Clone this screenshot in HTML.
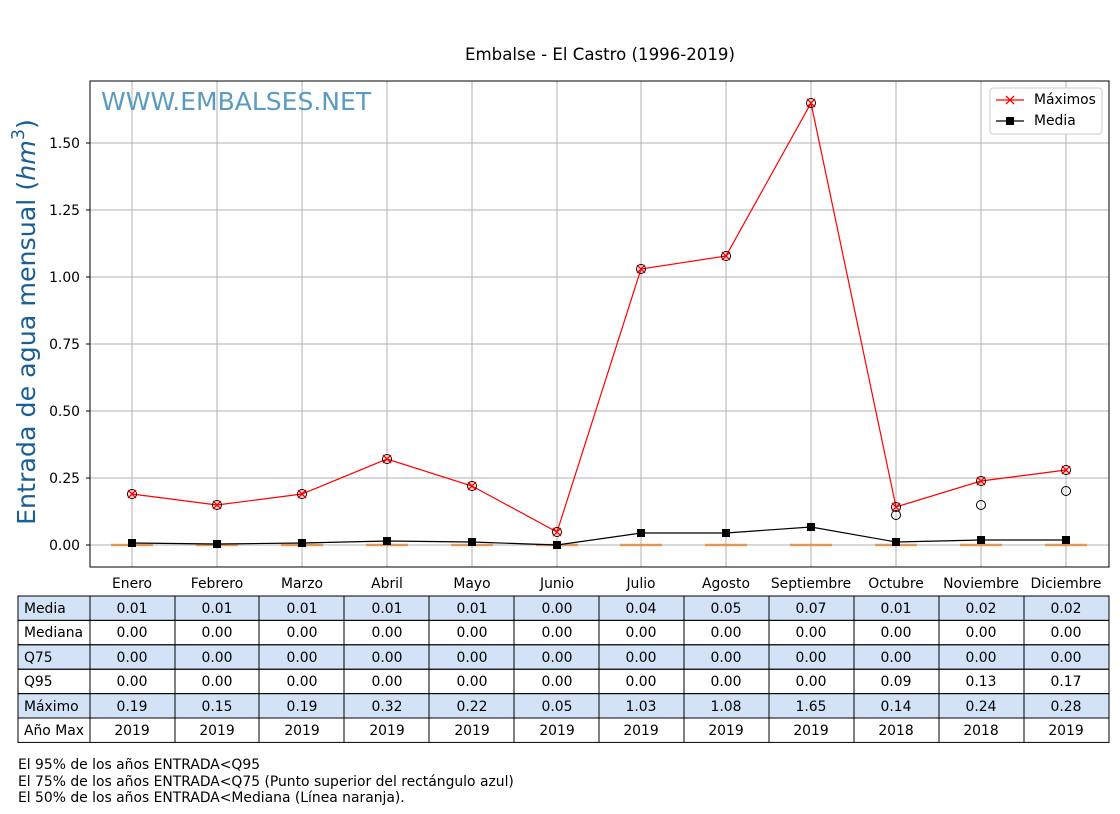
<!DOCTYPE html>
<html><head><meta charset="utf-8"><style>
body{margin:0;background:#fff;width:1120px;height:810px;overflow:hidden;font-family:"DejaVu Sans",sans-serif;}
</style></head><body>
<svg width="1120" height="810" xmlns="http://www.w3.org/2000/svg" font-family="DejaVu Sans, sans-serif">
<text x="600" y="60" font-size="16.6" text-anchor="middle">Embalse - El Castro (1996-2019)</text>
<g stroke="#b0b0b0" stroke-width="1">
<line x1="90" x2="1109" y1="545" y2="545"/><line x1="90" x2="1109" y1="478" y2="478"/><line x1="90" x2="1109" y1="411" y2="411"/><line x1="90" x2="1109" y1="344" y2="344"/><line x1="90" x2="1109" y1="277" y2="277"/><line x1="90" x2="1109" y1="210" y2="210"/><line x1="90" x2="1109" y1="143" y2="143"/>
<line y1="81" y2="567" x1="132" x2="132"/><line y1="81" y2="567" x1="217" x2="217"/><line y1="81" y2="567" x1="302" x2="302"/><line y1="81" y2="567" x1="387" x2="387"/><line y1="81" y2="567" x1="472" x2="472"/><line y1="81" y2="567" x1="557" x2="557"/><line y1="81" y2="567" x1="641" x2="641"/><line y1="81" y2="567" x1="726" x2="726"/><line y1="81" y2="567" x1="811" x2="811"/><line y1="81" y2="567" x1="896" x2="896"/><line y1="81" y2="567" x1="981" x2="981"/><line y1="81" y2="567" x1="1066" x2="1066"/>
</g>
<g stroke="#e08a3c" stroke-width="2.5" opacity="0.8">
<line x1="111" x2="153" y1="545" y2="545"/><line x1="196" x2="238" y1="545" y2="545"/><line x1="281" x2="323" y1="545" y2="545"/><line x1="366" x2="408" y1="545" y2="545"/><line x1="451" x2="493" y1="545" y2="545"/><line x1="536" x2="578" y1="545" y2="545"/><line x1="620" x2="662" y1="545" y2="545"/><line x1="705" x2="747" y1="545" y2="545"/><line x1="790" x2="832" y1="545" y2="545"/><line x1="875" x2="917" y1="545" y2="545"/><line x1="960" x2="1002" y1="545" y2="545"/><line x1="1045" x2="1087" y1="545" y2="545"/>
</g>
<rect x="90" y="81" width="1019" height="486" fill="none" stroke="#000"/>
<g font-size="13.9" text-anchor="end">
<text x="80" y="550">0.00</text><text x="80" y="483">0.25</text><text x="80" y="416">0.50</text><text x="80" y="349">0.75</text><text x="80" y="282">1.00</text><text x="80" y="215">1.25</text><text x="80" y="148">1.50</text>
</g>
<g stroke="#000"><line x1="86" x2="90" y1="545" y2="545"/><line x1="86" x2="90" y1="478" y2="478"/><line x1="86" x2="90" y1="411" y2="411"/><line x1="86" x2="90" y1="344" y2="344"/><line x1="86" x2="90" y1="277" y2="277"/><line x1="86" x2="90" y1="210" y2="210"/><line x1="86" x2="90" y1="143" y2="143"/></g>
<g font-size="13.9" text-anchor="middle">
<text x="132" y="588">Enero</text><text x="217" y="588">Febrero</text><text x="302" y="588">Marzo</text><text x="387" y="588">Abril</text><text x="472" y="588">Mayo</text><text x="557" y="588">Junio</text><text x="641" y="588">Julio</text><text x="726" y="588">Agosto</text><text x="811" y="588">Septiembre</text><text x="896" y="588">Octubre</text><text x="981" y="588">Noviembre</text><text x="1066" y="588">Diciembre</text>
</g>
<text transform="translate(35,322) rotate(-90)" font-size="25.3" fill="#1a5f94" text-anchor="middle">Entrada de agua mensual (<tspan font-style="italic">hm</tspan><tspan dy="-11" font-size="17.5">3</tspan><tspan dy="11">)</tspan></text>
<text x="101" y="110" font-size="25" fill="#5b9bc0">WWW.EMBALSES.NET</text>
<polyline fill="none" stroke="red" stroke-width="1.2" points="132,494 217,505 302,494 387,459 472,486 557,532 641,269 726,256 811,103 896,507 981,481 1066,470"/>
<g fill="none" stroke="#000" stroke-width="1">
<circle cx="132" cy="494" r="4.5"/><circle cx="217" cy="505" r="4.5"/><circle cx="302" cy="494" r="4.5"/><circle cx="387" cy="459" r="4.5"/><circle cx="472" cy="486" r="4.5"/><circle cx="557" cy="532" r="4.5"/><circle cx="641" cy="269" r="4.5"/><circle cx="726" cy="256" r="4.5"/><circle cx="811" cy="103" r="4.5"/><circle cx="896" cy="507" r="4.5"/><circle cx="981" cy="481" r="4.5"/><circle cx="1066" cy="470" r="4.5"/>
<circle cx="896" cy="515" r="4.5"/><circle cx="981" cy="505" r="4.5"/><circle cx="1066" cy="491" r="4.5"/>
</g>
<g stroke="red" stroke-width="1.3">
<path d="M128,490l8,8M136,490l-8,8M213,501l8,8M221,501l-8,8M298,490l8,8M306,490l-8,8M383,455l8,8M391,455l-8,8M468,482l8,8M476,482l-8,8M553,528l8,8M561,528l-8,8M637,265l8,8M645,265l-8,8M722,252l8,8M730,252l-8,8M807,99l8,8M815,99l-8,8M892,503l8,8M900,503l-8,8M977,477l8,8M985,477l-8,8M1062,466l8,8M1070,466l-8,8"/>
</g>
<polyline fill="none" stroke="#000" stroke-width="1.2" points="132,543 217,544 302,543 387,541 472,542 557,545 641,533 726,533 811,527 896,542 981,540 1066,540"/>
<g fill="#000">
<rect x="128" y="539" width="8" height="8"/><rect x="213" y="540" width="8" height="8"/><rect x="298" y="539" width="8" height="8"/><rect x="383" y="537" width="8" height="8"/><rect x="468" y="538" width="8" height="8"/><rect x="553" y="541" width="8" height="8"/><rect x="637" y="529" width="8" height="8"/><rect x="722" y="529" width="8" height="8"/><rect x="807" y="523" width="8" height="8"/><rect x="892" y="538" width="8" height="8"/><rect x="977" y="536" width="8" height="8"/><rect x="1062" y="536" width="8" height="8"/>
</g>
<rect x="990" y="88" width="112" height="46" rx="3" fill="#fff" stroke="#ccc"/>
<line x1="996" x2="1024" y1="100" y2="100" stroke="red" stroke-width="1.2"/><path d="M1006,96l8,8M1014,96l-8,8" stroke="red" stroke-width="1.3"/>
<text x="1034" y="104" font-size="13.9">Máximos</text>
<line x1="996" x2="1024" y1="121" y2="121" stroke="#000" stroke-width="1.2"/><rect x="1006" y="117" width="8" height="8"/>
<text x="1034" y="125" font-size="13.9">Media</text>
<g stroke="#000" stroke-width="1">
<rect x="18" y="596" width="1091" height="24.4" fill="#d3e3f7"/>
<rect x="18" y="644.8" width="1091" height="24.4" fill="#d3e3f7"/>
<rect x="18" y="693.6" width="1091" height="24.4" fill="#d3e3f7"/>
<rect x="18" y="596" width="1091" height="146.4" fill="none"/>
<line x1="18" x2="1109" y1="620.4" y2="620.4"/><line x1="18" x2="1109" y1="644.8" y2="644.8"/><line x1="18" x2="1109" y1="669.2" y2="669.2"/><line x1="18" x2="1109" y1="693.6" y2="693.6"/><line x1="18" x2="1109" y1="718" y2="718"/>
<line x1="90" x2="90" y1="596" y2="742.4"/><line x1="175" x2="175" y1="596" y2="742.4"/><line x1="259" x2="259" y1="596" y2="742.4"/><line x1="344" x2="344" y1="596" y2="742.4"/><line x1="429" x2="429" y1="596" y2="742.4"/><line x1="514" x2="514" y1="596" y2="742.4"/><line x1="599" x2="599" y1="596" y2="742.4"/><line x1="684" x2="684" y1="596" y2="742.4"/><line x1="769" x2="769" y1="596" y2="742.4"/><line x1="854" x2="854" y1="596" y2="742.4"/><line x1="939" x2="939" y1="596" y2="742.4"/><line x1="1024" x2="1024" y1="596" y2="742.4"/>
</g>
<g font-size="13.9">
<text x="24" y="613">Media</text><text x="24" y="637">Mediana</text><text x="24" y="662">Q75</text><text x="24" y="686">Q95</text><text x="24" y="711">Máximo</text><text x="24" y="735">Año Max</text>
</g>
<g font-size="13.9" text-anchor="middle">
<text y="613"><tspan x="132">0.01</tspan><tspan x="217">0.01</tspan><tspan x="302">0.01</tspan><tspan x="387">0.01</tspan><tspan x="472">0.01</tspan><tspan x="557">0.00</tspan><tspan x="641">0.04</tspan><tspan x="726">0.05</tspan><tspan x="811">0.07</tspan><tspan x="896">0.01</tspan><tspan x="981">0.02</tspan><tspan x="1066">0.02</tspan></text>
<text y="637"><tspan x="132">0.00</tspan><tspan x="217">0.00</tspan><tspan x="302">0.00</tspan><tspan x="387">0.00</tspan><tspan x="472">0.00</tspan><tspan x="557">0.00</tspan><tspan x="641">0.00</tspan><tspan x="726">0.00</tspan><tspan x="811">0.00</tspan><tspan x="896">0.00</tspan><tspan x="981">0.00</tspan><tspan x="1066">0.00</tspan></text>
<text y="662"><tspan x="132">0.00</tspan><tspan x="217">0.00</tspan><tspan x="302">0.00</tspan><tspan x="387">0.00</tspan><tspan x="472">0.00</tspan><tspan x="557">0.00</tspan><tspan x="641">0.00</tspan><tspan x="726">0.00</tspan><tspan x="811">0.00</tspan><tspan x="896">0.00</tspan><tspan x="981">0.00</tspan><tspan x="1066">0.00</tspan></text>
<text y="686"><tspan x="132">0.00</tspan><tspan x="217">0.00</tspan><tspan x="302">0.00</tspan><tspan x="387">0.00</tspan><tspan x="472">0.00</tspan><tspan x="557">0.00</tspan><tspan x="641">0.00</tspan><tspan x="726">0.00</tspan><tspan x="811">0.00</tspan><tspan x="896">0.09</tspan><tspan x="981">0.13</tspan><tspan x="1066">0.17</tspan></text>
<text y="711"><tspan x="132">0.19</tspan><tspan x="217">0.15</tspan><tspan x="302">0.19</tspan><tspan x="387">0.32</tspan><tspan x="472">0.22</tspan><tspan x="557">0.05</tspan><tspan x="641">1.03</tspan><tspan x="726">1.08</tspan><tspan x="811">1.65</tspan><tspan x="896">0.14</tspan><tspan x="981">0.24</tspan><tspan x="1066">0.28</tspan></text>
<text y="735"><tspan x="132">2019</tspan><tspan x="217">2019</tspan><tspan x="302">2019</tspan><tspan x="387">2019</tspan><tspan x="472">2019</tspan><tspan x="557">2019</tspan><tspan x="641">2019</tspan><tspan x="726">2019</tspan><tspan x="811">2019</tspan><tspan x="896">2018</tspan><tspan x="981">2018</tspan><tspan x="1066">2019</tspan></text>
</g>
<g font-size="13.9">
<text x="18" y="769">El 95% de los años ENTRADA&lt;Q95</text>
<text x="18" y="786">El 75% de los años ENTRADA&lt;Q75 (Punto superior del rectángulo azul)</text>
<text x="18" y="802">El 50% de los años ENTRADA&lt;Mediana (Línea naranja).</text>
</g>
</svg>
</body></html>
